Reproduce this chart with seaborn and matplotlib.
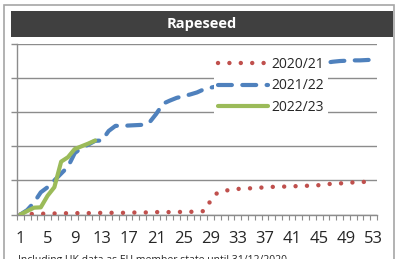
import numpy as np
import pandas as pd
import seaborn as sns
import matplotlib.pyplot as plt
from matplotlib.patches import Rectangle

# data (y in gridline units)
weeks = list(range(1, 54))
y2020 = [0.00, 0.01, 0.02, 0.02, 0.03, 0.03, 0.03, 0.04, 0.04, 0.04,
         0.04, 0.04, 0.05, 0.05, 0.05, 0.05, 0.05, 0.06, 0.06, 0.06,
         0.07, 0.07, 0.07, 0.07, 0.08, 0.08, 0.08, 0.10, 0.40, 0.64,
         0.69, 0.73, 0.75, 0.76, 0.77, 0.78, 0.80, 0.81, 0.81, 0.82,
         0.83, 0.83, 0.84, 0.85, 0.86, 0.89, 0.90, 0.91, 0.93, 0.94,
         0.95, 0.96, 0.98]
y2021 = [0.00, 0.13, 0.35, 0.65, 0.80, 1.00, 1.20, 1.40, 1.80, 1.95,
         2.05, 2.16, 2.17, 2.45, 2.60, 2.60, 2.61, 2.62, 2.63, 2.70,
         2.95, 3.25, 3.34, 3.42, 3.47, 3.52, 3.58, 3.67, 3.72, 3.76,
         3.80, 3.84, 3.88, 3.92, 3.96, 4.00, 4.04, 4.08, 4.12, 4.16,
         4.20, 4.25, 4.30, 4.35, 4.40, 4.45, 4.48, 4.50, 4.51, 4.52,
         4.52, 4.53, 4.54]
weeks22 = list(range(1, 13))
y2022 = [0.00, 0.10, 0.20, 0.21, 0.55, 0.80, 1.55, 1.68, 1.92, 2.00,
         2.08, 2.17]
tick_weeks = list(range(1, 54, 4))

sns.set_style("white")
plt.rcParams['font.family'] = ['Open Sans', 'DejaVu Sans']
plt.rcParams['lines.scale_dashes'] = False

fig = plt.figure(figsize=(3.98, 2.59), dpi=100)
ax = fig.add_axes([17/398, 1-214.5/259, 360/398, 170.5/259])

# outer border + title bar
fig.patches.append(Rectangle((4/398, -0.1), 390/398, 1.1-5/259, transform=fig.transFigure,
                             facecolor='none', edgecolor='#a6a6a6', lw=1.2))
fig.patches.append(Rectangle((11/398, 1-36.5/259), 382/398, 25.5/259, transform=fig.transFigure,
                             facecolor='#404040', edgecolor='none'))
fig.text(202/398, 1-24/259, 'Rapeseed', color='white', fontsize=10.5, fontweight='bold',
         ha='center', va='center')

grid_col = '#8c8c8c'
sns.lineplot(x=weeks, y=y2020, ax=ax, color='#c0504d', lw=3.2,
             linestyle=(0, (0.01, 8.2)), dash_capstyle='round', label='2020/21', zorder=3)
sns.lineplot(x=weeks, y=y2021, ax=ax, color='#4f81bd', lw=3.0,
             linestyle=(0, (10, 7.5)), dash_capstyle='round', label='2021/22', zorder=3)
sns.lineplot(x=weeks22, y=y2022, ax=ax, color='#9bbb59', lw=3.0,
             solid_capstyle='round', label='2022/23', zorder=4)

ax.set_xlim(0.5, 53.5)
ax.set_ylim(0, 5)
ax.set_yticks(range(0, 6))
ax.set_yticklabels([])
ax.grid(axis='y', color=grid_col, lw=1.0)
ax.set_axisbelow(True)
ax.set_xticks(tick_weeks)
ax.set_xticklabels([str(w) for w in tick_weeks], fontsize=12)
ax.set_xticks(np.arange(0.5, 54, 1), minor=True)
ax.tick_params(axis='x', which='major', length=0, pad=12)
ax.tick_params(axis='x', which='minor', length=3.5, width=0.8, color=grid_col, direction='out', bottom=True)
ax.tick_params(axis='y', which='major', length=4, width=1.0, color=grid_col, direction='out', left=True)
for s in ['top', 'right']:
    ax.spines[s].set_visible(False)
for s in ['left', 'bottom']:
    ax.spines[s].set_color(grid_col)
    ax.spines[s].set_linewidth(1.0)
ax.set_xlabel('')
ax.set_ylabel('')

leg = ax.legend(loc='upper left', bbox_to_anchor=(190/360, 1-2/170.5), fontsize=10,
                handlelength=3.6, labelspacing=0.45, handletextpad=0.2,
                borderpad=0.3, frameon=True, framealpha=1, fancybox=False)
leg.get_frame().set_facecolor('white')
leg.get_frame().set_edgecolor('none')
leg.set_zorder(10)

fig.text(18/398, 1-255/259, 'Including UK data as EU member state until 31/12/2020',
         fontsize=7.5, ha='left', va='top')

fig.savefig('out.png', dpi=100)
